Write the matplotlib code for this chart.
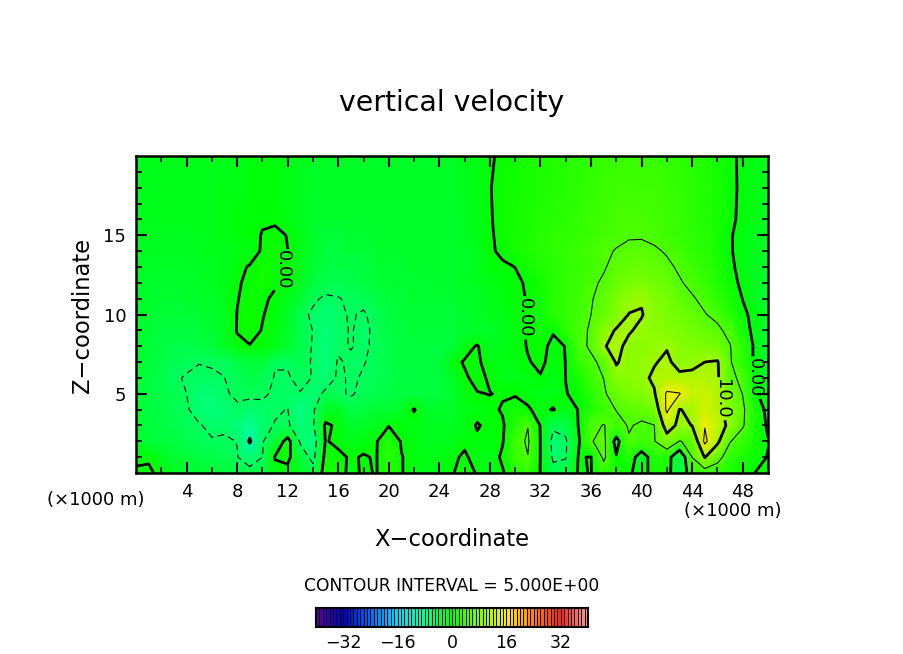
import numpy as np
import matplotlib
matplotlib.use("Agg")
import matplotlib.pyplot as plt
from matplotlib.colors import LinearSegmentedColormap, Normalize

x_km = np.arange(0, 51)
z_km = [0, 1, 2, 3, 4, 5, 6, 7, 8, 9, 10, 11, 12, 13, 14, 15, 16, 18, 20]

w_z00 = [.3,.4,-.6,-1.8,-2.2,-2.5,-2.8,-3,-3.5,-4,
 -3.5,-1,-1,-1.5,-3.5,1.5,1.5,-1,.5,-.2,
 2.5,.1,-.8,-1,-1,-.2,1,-.2,-1,-.3,
 2,3,-.1,-4,-3.5,.3,-.1,3,1.5,.5,
 -1.5,1.5,1.5,-3.5,2.5,3,2.5,1.5,.8,-.05,-.5]
w_z01 = [-.4,-.3,-1.8,-2.6,-3,-3.5,-4,-4.3,-4.9,-6.5,
 -5,.2,.8,-3,-6,1,.6,-.3,.2,-.2,
 3,.1,-.8,-1,-1.2,-.5,.4,-1,-1.5,.5,
 3.5,4.9,-.1,-5.5,-5.2,.15,-.1,5.8,.3,2,
 -2,2,2,-4,5.05,10.2,6.5,2.7,1.8,.8,-.1]
w_z02 = [-2.4,-3,-3.2,-3.4,-3.8,-4.6,-4.8,-4.7,-5.05,-10.5,
 -5.2,-3,1.5,-5.5,-7,.2,-.6,-1.5,-.8,-.2,
 2,-.2,-.9,-1.3,-1.5,-1.3,-.5,-.4,-.6,-.2,
 3.5,5.5,-.1,-6,-5.4,-.5,4.8,6,-1.5,4.8,
 3.5,4.8,8,4.9,5.5,16,10.8,5.2,3,1,.1]
w_z03 = [-2.6,-3.2,-3.5,-3.8,-4.4,-4.8,-5.6,-5.4,-6.5,-8,
 -5.5,-4.9,-4.7,-6.5,-5.4,.5,-.5,-2.5,-2,-1.8,
 -.1,-.6,-1.2,-1.6,-1.8,-1.6,-1.1,.2,-.6,-.3,
 2,4.9,-.2,-4.5,-4,.1,4.4,5.1,4,5.2,
 4.6,4.95,12,9,10.1,14.8,12,9,5.4,1.5,-.3]
w_z04 = [-2.7,-3.3,-3.7,-4.2,-4.7,-6.2,-6.8,-6,-5.3,-5.8,
 -5.5,-5.2,-4.95,-7,-5.4,-2,-1.5,-4,-3.2,-2.8,
 -2.6,-2,.2,-2,-2.4,-2,-1,-.8,-.5,.2,
 1.5,.3,-.8,.2,-1.5,.1,2,3.7,5.1,5.6,
 6,7,15.8,9.9,10.5,13,11.5,8,5.6,1.8,-.8]
w_z05 = [-2.6,-3.3,-3.8,-4.3,-5,-6,-6,-5.2,-4.7,-4.6,
 -4.7,-5.3,-5.4,-5.05,-6.2,-4.4,-4.7,-5.2,-4.5,-3.8,
 -3.6,-3.4,-3.3,-3.3,-3.2,-2.2,-.9,-.1,.05,-.2,
 -.3,-.8,-1.1,-1.5,-.05,.3,2.5,4.6,6.5,7.5,
 8,9.6,15.6,15.2,12,12.5,11,7.5,4.9,.3,-1.2]
w_z06 = [-2.5,-3.2,-4,-4.7,-5.2,-5.3,-5.3,-5.01,-4.5,-3.5,
 -4.3,-5.1,-5.1,-4.7,-5.05,-6.5,-4.6,-5.3,-4.8,-4.2,
 -3.8,-3.5,-3.4,-3.4,-3.4,-2.2,-.3,.6,-.3,-1,
 -1,-1,-.1,-1,.02,1.5,3.5,5.05,8.4,8.5,
 9,10.7,11.5,11,11,11.5,10.5,5.6,4.4,-.05,-2.4]
w_z07 = [-2.4,-3.1,-3.7,-4.1,-4.5,-4.95,-4.8,-4.9,-4,-3,
 -3,-4.9,-4.9,-4.2,-5.2,-6.5,-4.8,-5.3,-5.1,-4.5,
 -3.8,-3.4,-3.3,-3.3,-3.3,-.7,.2,.3,-.8,-1.2,
 -.9,-.1,.3,-.5,.02,3,4.6,5.5,10.4,8.3,
 8.8,9.7,10.8,8.5,9,10,10.3,5.3,2.5,-.6,-2.7]
w_z08 = [-2.3,-3,-3.5,-3.8,-3.8,-3.6,-3,-2,-.4,-.1,
 -.3,-1.2,-2.4,-4.3,-5.1,-6.5,-5.3,-4.9,-5.4,-4.5,
 -3.7,-3.3,-3.2,-3.2,-3.2,-3.2,-.9,.2,-1.8,-1.4,
 -.6,.1,.5,-.4,.05,4.4,5.3,9.8,10.8,9.2,
 8.5,9.2,9.7,8.2,8,7.5,7,5.1,3,-.7,-2.8]
w_z09 = [-2.2,-2.8,-3.2,-3.4,-3.3,-3.1,-2.6,-1.8,.1,.8,
 -.1,-.9,-2,-3.8,-5.05,-6.3,-5.4,-4.9,-5.4,-4.6,
 -3.6,-3.2,-3.1,-3.1,-3.1,-3.1,-2.7,-2.3,-2,-1.4,
 -.7,.2,1,.15,2.5,4.5,5.2,8.5,10.3,10.3,
 9.3,8.5,8,7.5,7,6.3,5.4,4.4,1.2,-.8,-2.8]
w_z10 = [-2.1,-2.6,-2.9,-3,-2.9,-2.7,-2.3,-1.7,.05,.8,
 .1,-.6,-1.7,-4.3,-5.4,-6,-5.3,-4.85,-5.2,-4.4,
 -3.4,-3.1,-3,-3,-2.9,-2.9,-2.5,-2.1,-1.5,-1,
 -.5,.2,1,2.1,3.1,4,5,6,8,10.1,
 10.2,8.5,7.8,7,6.2,5.1,4.5,2,.4,-.6,-2.8]
w_z11 = [-2,-2.4,-2.6,-2.6,-2.5,-2.3,-2,-1.5,-.1,.7,
 .4,-.4,-1.3,-2.4,-4.6,-5.4,-5.1,-4.7,-4.5,-3.7,
 -3.1,-2.9,-2.8,-2.8,-2.7,-2.7,-2.3,-1.9,-1.3,-.8,
 -.4,.1,1,2.1,3,3.8,4.8,6,7.5,9,
 9.7,8,7.3,6.2,5.2,4.5,2.8,1.3,-.05,-1.8,-2.6]
w_z12 = [-1.9,-2.2,-2.3,-2.3,-2.2,-2.1,-1.8,-1.4,-.3,.6,
 1,.3,-.7,-1.6,-3.2,-3.9,-4.2,-4,-3.6,-3.1,
 -2.8,-2.7,-2.6,-2.6,-2.5,-2.5,-2.1,-1.7,-1,-.6,
 -.3,.2,1.2,2.2,2.9,3.5,4.6,5.3,6.5,7.3,
 7.5,7,6.3,5.2,4.5,3.2,2,.8,-.5,-1.7,-2.4]
w_z13 = [-1.8,-2,-2,-2,-1.9,-1.8,-1.6,-1.3,-.6,.2,
 1,.7,-.3,-1.3,-2.8,-3.5,-3.7,-3.5,-3.2,-2.8,
 -2.6,-2.6,-2.5,-2.5,-2.4,-2.4,-2,-1.5,-.5,-.3,
 .02,1,1.8,2.4,2.9,3.3,3.9,4.8,5.7,6.3,
 6.5,6.2,5.4,4.7,3.5,2.5,1.6,.4,-.7,-1.6,-2.2]
w_z14 = [-1.7,-1.8,-1.8,-1.8,-1.7,-1.7,-1.5,-1.3,-1.2,-1.2,
 .3,1,.02,-1,-2.5,-3.2,-3.3,-3.1,-2.9,-2.6,
 -2.5,-2.5,-2.4,-2.4,-2.3,-2.3,-1.9,-1.4,-.3,.4,
 1.2,1.8,2.4,2.8,3.1,3.6,4.2,4.7,5.1,5.6,
 5.7,5.3,4.8,3.8,3,2.3,1.5,.2,-.8,-1.5,-2]
w_z15 = [-1.6,-1.6,-1.6,-1.6,-1.6,-1.5,-1.4,-1,-.6,-.3,
 .05,.6,-.1,-1.2,-2.4,-3,-3,-2.8,-2.6,-2.4,
 -2.4,-2.4,-2.3,-2.3,-2.3,-2.3,-1.8,-1.4,-.3,.7,
 1.3,1.8,2.2,2.5,2.8,3.2,3.7,4.2,4.6,4.75,
 4.75,4.5,4,3.4,2.8,2.2,1.5,.2,-.8,-1.4,-1.8]
w_z16 = [-1.5,-1.5,-1.5,-1.5,-1.5,-1.5,-1.5,-1,-.6,-.4,
 -.1,-.4,-.7,-1.5,-2.2,-2.5,-2.5,-2.5,-2.3,-2.2,
 -2.2,-2.2,-2.2,-2.2,-2.2,-2.2,-1.7,-1.3,-.2,.8,
 1.3,1.7,2,2.3,2.6,3,3.5,4,4.4,4.5,
 4.5,4.3,3.8,3.2,2.7,2.1,1.5,.5,-.6,-1.2,-1.7]
w_z18 = [-1.5,-1.5,-1.5,-1.5,-1.5,-1.5,-1.5,-1,-1,-.5,
 -.5,-.5,-1,-1.5,-2,-2,-2,-2,-2,-2,
 -2,-2,-2,-2,-2,-2,-1.5,-1.2,-.1,.8,
 1.2,1.5,1.8,2,2.3,2.6,3,3.5,4,4,
 4,3.8,3.5,3,2.5,2,1.5,.6,-.5,-1,-1.5]
w_z20 = [-1.5,-1.5,-1.5,-1.5,-1.5,-1.5,-1.5,-1.5,-1,-1,
 -.6,-.6,-1,-1.5,-2,-2,-2,-2,-2,-2,
 -2,-2,-2,-2,-2,-2,-1.5,-1,-.3,.5,
 1,1.5,1.8,2,2.3,2.6,3,3.3,3.5,3.6,
 3.5,3.3,3,2.7,2.3,1.9,1.4,.4,-.4,-1,-1.5]

w = np.array([w_z00, w_z01, w_z02, w_z03, w_z04, w_z05, w_z06, w_z07, w_z08, w_z09,
              w_z10, w_z11, w_z12, w_z13, w_z14, w_z15, w_z16, w_z18, w_z20])

cbar_ticks = [-32, -16, 0, 16, 32]
x_ticks = list(range(4, 49, 4))
z_ticks = [5, 10, 15]

cmap = LinearSegmentedColormap.from_list("rb", [
    (0.00, (0.35, 0.0, 0.6)), (0.10, (0.0, 0.0, 0.78)), (0.20, (0.0, 0.43, 1.0)),
    (0.30, (0.0, 0.86, 1.0)), (0.40, (0.0, 1.0, 0.58)), (0.50, (0.0, 1.0, 0.0)),
    (0.60, (0.5, 1.0, 0.0)), (0.70, (1.0, 0.92, 0.0)), (0.80, (1.0, 0.5, 0.0)),
    (0.90, (1.0, 0.12, 0.12)), (1.00, (1.0, 0.6, 0.6))])
norm = Normalize(-40, 40)

W, H = 904, 654
fig = plt.figure(figsize=(W/100, H/100), dpi=100)
ax = fig.add_axes([136/W, 1-473/H, 632/W, 317/H])
X, Z = np.meshgrid(x_km, z_km)
ax.pcolormesh(X, Z, w, cmap=cmap, norm=norm, shading="gouraud")
ax.contour(X, Z, w, levels=[-5], colors="k", linewidths=0.8, linestyles=[(0, (6, 4))])
ax.contour(X, Z, w, levels=[5, 15], colors="k", linewidths=0.75, linestyles="solid")
ax.contour(X, Z, w, levels=[-10], colors="k", linewidths=2.0, linestyles="solid")
cs = ax.contour(X, Z, w, levels=[0, 10], colors="k", linewidths=2.0, linestyles="solid")
ax.clabel(cs, fmt={0: "0.00", 10: "10.0"}, fontsize=13,
          manual=[(11.6, 12.8), (30.9, 9.8), (49.0, 6.0), (46.5, 4.7)], inline=True, inline_spacing=2)
for t in cs.labelTexts:
    t.set_rotation(-90)
ax.set_xlim(0, 50); ax.set_ylim(0, 20)
ax.set_xticks(x_ticks); ax.set_xticks(range(2, 50, 4), minor=True)
ax.set_yticks(z_ticks); ax.set_yticks([i for i in range(1, 20) if i % 5], minor=True)
ax.tick_params(which="major", direction="in", length=8, width=1.5, top=True, right=True, labelsize=13, pad=7)
ax.tick_params(which="minor", direction="in", length=4, width=1.2, top=True, right=True)
for s in ax.spines.values():
    s.set_linewidth(1.8)

def label(px, py, s, size, **kw):
    fig.text(px/W, 1-py/H, s, fontsize=size, ha="center", va="center", **kw)

label(452, 103, "vertical velocity", 20.4)
label(452, 539, "X\u2212coordinate", 16.3)
label(83, 315, "Z\u2212coordinate", 16.3, rotation=90)
label(96, 500, "(\u00d71000 m)", 13)
label(733, 511, "(\u00d71000 m)", 13)
label(452, 586, "CONTOUR INTERVAL = 5.000E+00", 12.3)

cax = fig.add_axes([316/W, 1-627/H, 272/W, 19/H])
edges = np.arange(-40, 41)
cax.pcolormesh(edges, [0, 1], ((edges[:-1]+edges[1:])/2)[None, :], cmap=cmap, norm=norm,
               edgecolors="k", linewidth=0.7)
cax.set_yticks([])
cax.set_xticks(cbar_ticks)
cax.set_xticklabels([str(t).replace("-", "\u2212") for t in cbar_ticks])
cax.tick_params(length=0, labelsize=12.5, pad=5)
for s in cax.spines.values():
    s.set_linewidth(1.5)

fig.savefig("out.png", dpi=100)
